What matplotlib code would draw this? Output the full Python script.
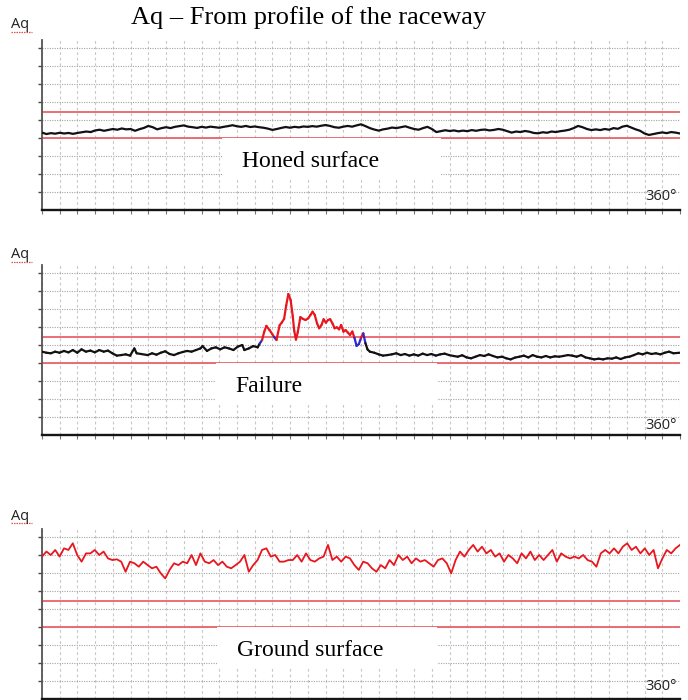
"""
Aq profile of the raceway: honed surface, failure and ground surface.
Three stacked strip charts, 0-360 deg around the ring.
"""

import numpy as np
import matplotlib.pyplot as plt
from matplotlib.collections import LineCollection
from matplotlib.lines import Line2D
from matplotlib.patches import Rectangle

# ---- data (grid units, one horizontal grid line = 1) ----
UPPER_LIMIT = 5.45
LOWER_LIMIT = 4.0

HONED_VALUES = [
    4.30, 4.22, 4.27, 4.24, 4.29, 4.25, 4.28, 4.23, 4.28, 4.32,
    4.36, 4.33, 4.42, 4.46, 4.40, 4.45, 4.50, 4.46, 4.53, 4.48,
    4.50, 4.40, 4.49, 4.56, 4.67, 4.60, 4.48, 4.55, 4.60, 4.55,
    4.62, 4.66, 4.70, 4.63, 4.60, 4.56, 4.62, 4.58, 4.63, 4.60,
    4.57, 4.62, 4.66, 4.71, 4.65, 4.62, 4.67, 4.61, 4.64, 4.60,
    4.57, 4.52, 4.45, 4.50, 4.56, 4.61, 4.57, 4.62, 4.59, 4.64,
    4.62, 4.66, 4.63, 4.68, 4.72, 4.67, 4.60, 4.57, 4.63, 4.67,
    4.63, 4.70, 4.76, 4.66, 4.55, 4.47, 4.41, 4.48, 4.52, 4.58,
    4.55, 4.60, 4.65, 4.57, 4.50, 4.46, 4.55, 4.62, 4.50, 4.33,
    4.38, 4.43, 4.39, 4.42, 4.37, 4.41, 4.38, 4.44, 4.40, 4.45,
    4.47, 4.42, 4.45, 4.50, 4.46, 4.38, 4.30, 4.36, 4.33, 4.39,
    4.35, 4.28, 4.26, 4.32, 4.29, 4.36, 4.33, 4.38, 4.41, 4.46,
    4.55, 4.67, 4.60, 4.50, 4.44, 4.48, 4.44, 4.50, 4.46, 4.55,
    4.51, 4.63, 4.68, 4.58, 4.48, 4.40, 4.25, 4.17, 4.22, 4.27,
    4.31, 4.27, 4.33, 4.30, 4.25,
]

FAILURE_ANGLES = [
    0, 2.5, 5.0, 7.4, 9.9, 12.4, 14.9, 17.4, 19.9, 22.3,
    24.8, 27.3, 29.8, 32.3, 34.8, 37.2, 39.7, 42.2, 44.7, 47.2,
    49.7, 52.1, 53.4, 55.9, 59.6, 62.1, 64.6, 67.0, 69.5, 72.0,
    74.5, 77.0, 79.4, 81.9, 84.4, 86.9, 89.4, 90.6, 93.1, 95.6,
    98.1, 100.6, 103.0, 105.5, 108.0, 110.5, 113.0, 114.2, 116.7, 119.2,
    121.7, 122.9, 124.2, 125.4, 126.6, 128.4, 129.9, 130.9, 132.3, 134.1,
    135.3, 136.6, 137.8, 139.0, 140.3, 141.5, 142.3, 143.3, 144.3, 145.8,
    147.2, 148.7, 150.2, 151.5, 152.7, 153.9, 155.2, 156.4, 157.7, 158.9,
    160.2, 161.4, 162.6, 163.9, 165.1, 166.4, 167.6, 168.8, 170.1, 171.3,
    172.6, 173.8, 175.1, 176.3, 177.5, 178.8, 180.0, 181.3, 182.5, 183.7,
    185.0, 187.5, 190.0, 192.4, 194.9, 197.4, 199.9, 202.4, 204.8, 207.3,
    209.8, 212.3, 214.8, 217.3, 219.7, 222.2, 224.7, 227.2, 229.7, 232.2,
    234.6, 237.1, 239.6, 242.1, 244.6, 247.1, 249.5, 252.0, 254.5, 257.0,
    259.5, 262.0, 264.4, 266.9, 269.4, 271.9, 274.4, 276.9, 279.3, 281.8,
    284.3, 286.8, 289.3, 291.8, 294.2, 296.7, 299.2, 301.7, 304.2, 306.7,
    309.1, 311.6, 314.1, 316.6, 319.1, 321.6, 324.0, 326.5, 329.0, 331.5,
    334.0, 336.5, 338.9, 341.4, 343.9, 346.4, 348.9, 351.4, 353.8, 356.3,
    360.0,
]

FAILURE_VALUES = [
    4.63, 4.57, 4.54, 4.63, 4.57, 4.67, 4.59, 4.72, 4.57, 4.76,
    4.63, 4.69, 4.59, 4.72, 4.63, 4.69, 4.54, 4.41, 4.44, 4.48,
    4.41, 4.81, 4.54, 4.50, 4.44, 4.54, 4.46, 4.57, 4.65, 4.50,
    4.44, 4.54, 4.61, 4.67, 4.63, 4.72, 4.81, 4.94, 4.67, 4.81,
    4.87, 4.76, 4.87, 4.81, 4.72, 4.91, 5.00, 4.72, 4.81, 4.94,
    4.87, 5.09, 5.28, 5.74, 6.06, 5.83, 5.61, 5.45, 5.28, 6.10,
    6.25, 6.45, 7.20, 7.83, 7.50, 6.60, 5.80, 5.30, 5.70, 6.55,
    6.45, 6.39, 6.48, 6.67, 6.85, 6.67, 6.20, 5.93, 6.11, 6.43,
    6.24, 6.39, 6.43, 6.20, 5.93, 5.98, 5.87, 6.11, 5.74, 5.83,
    5.69, 5.56, 5.75, 5.40, 4.95, 5.05, 5.40, 5.65, 5.10, 4.75,
    4.63, 4.57, 4.48, 4.41, 4.44, 4.48, 4.54, 4.44, 4.50, 4.41,
    4.48, 4.41, 4.52, 4.44, 4.50, 4.41, 4.48, 4.52, 4.44, 4.39,
    4.35, 4.43, 4.31, 4.26, 4.35, 4.44, 4.39, 4.48, 4.39, 4.31,
    4.35, 4.26, 4.20, 4.30, 4.35, 4.41, 4.31, 4.44, 4.35, 4.31,
    4.39, 4.31, 4.37, 4.35, 4.39, 4.44, 4.41, 4.35, 4.44, 4.31,
    4.26, 4.20, 4.24, 4.20, 4.26, 4.24, 4.31, 4.22, 4.31, 4.35,
    4.44, 4.54, 4.48, 4.57, 4.50, 4.54, 4.48, 4.57, 4.63, 4.54,
    4.57,
]

GROUND_VALUES = [
    7.91, 8.19, 8.00, 8.28, 7.91, 8.37, 8.28, 8.65, 8.00, 7.63,
    8.09, 8.09, 8.28, 8.00, 8.19, 7.81, 7.72, 7.76, 7.63, 7.07,
    7.63, 7.54, 7.35, 7.63, 7.44, 7.26, 7.35, 6.98, 6.70, 7.17,
    7.54, 7.44, 7.63, 7.54, 8.00, 7.44, 8.09, 7.63, 7.54, 7.72,
    7.44, 7.63, 7.35, 7.26, 7.44, 7.63, 8.00, 7.07, 7.44, 7.72,
    8.28, 8.37, 7.91, 8.00, 7.63, 7.63, 7.72, 7.72, 8.00, 7.63,
    8.09, 7.72, 7.63, 7.81, 7.91, 8.56, 7.72, 7.91, 7.63, 7.91,
    7.81, 7.44, 7.17, 7.63, 7.54, 7.26, 7.07, 7.44, 7.26, 7.72,
    7.44, 8.00, 7.72, 7.91, 7.54, 7.81, 7.63, 7.72, 7.54, 7.35,
    7.72, 7.81, 7.54, 6.98, 7.72, 8.19, 7.91, 8.28, 8.56, 8.19,
    8.46, 8.09, 8.28, 7.91, 8.09, 7.63, 8.00, 7.81, 7.54, 8.09,
    7.81, 8.19, 7.72, 8.00, 7.72, 8.00, 8.28, 7.63, 8.09, 7.91,
    7.81, 7.91, 7.81, 8.00, 7.72, 7.63, 7.35, 8.09, 8.28, 8.09,
    8.37, 8.09, 8.46, 8.65, 8.28, 8.46, 8.09, 8.37, 8.00, 8.28,
    7.26, 7.81, 8.28, 8.09, 8.37, 8.56,
]

PANEL_NAMES = ["Honed surface", "Failure", "Ground surface"]
# label box extent (deg) and label centre per panel
BOX_SPANS = [(101.6, 225.2), (98.2, 222.9), (99.0, 222.7)]
BOX_BOTTOMS = [1.67, 1.67, 1.78]
NAME_X = [151.8, 128.1, 151.5]
NAME_Y = [2.67, 2.72, 2.72]
END_LABEL_Y = [0.74, 0.55, 0.67]

# ---- style ----
LIMIT_COLOUR = "#e8646b"
TRACE_RED = "#e8161e"
TRACE_BLUE = "#2a2ad0"
TRACE_BLACK = "#111111"
YMAX = 9.45

fig = plt.figure(figsize=(6.88, 7.00), dpi=100)
W, H = 688.0, 700.0
AX_LEFT, AX_RIGHT = 42, 680
AX_BOTTOMS = [210, 435, 699]
AX_H = YMAX * 18


def style_axes(ax):
    ax.set_xlim(0, 360)
    ax.set_ylim(0, YMAX)
    ax.set_xticks(np.arange(0, 361, 10))
    ax.set_yticks(np.arange(1, 10))
    ax.tick_params(axis="x", length=3, width=0.8, color="#777777",
                   labelbottom=False, direction="out")
    ax.tick_params(axis="y", length=3, width=1.0, color="#444444",
                   labelleft=False, direction="out")
    for side in ("top", "right"):
        ax.spines[side].set_visible(False)
    ax.spines["left"].set_color("#555555")
    ax.spines["left"].set_linewidth(1.3)
    ax.spines["bottom"].set_color("#151515")
    ax.spines["bottom"].set_linewidth(1.7)
    ax.xaxis.grid(True, color="#c8c8c8", lw=0.8, linestyle=(0, (2.5, 2.5)))
    ax.yaxis.grid(True, color="#a4a4a4", lw=0.8, linestyle=(0, (1, 1.2)))
    ax.set_axisbelow(True)


axes = []
for i, bottom_px in enumerate(AX_BOTTOMS):
    ax = fig.add_axes([AX_LEFT / W, (H - bottom_px) / H,
                       (AX_RIGHT - AX_LEFT) / W, AX_H / H])
    style_axes(ax)
    ax.axhline(UPPER_LIMIT, color=LIMIT_COLOUR, lw=1.3, zorder=2)
    ax.axhline(LOWER_LIMIT, color=LIMIT_COLOUR, lw=1.3, zorder=2)
    x0, x1 = BOX_SPANS[i]
    ax.add_patch(Rectangle((x0, BOX_BOTTOMS[i]), x1 - x0,
                           LOWER_LIMIT - BOX_BOTTOMS[i],
                           facecolor="white", edgecolor="none", zorder=3))
    ax.text(NAME_X[i], NAME_Y[i], PANEL_NAMES[i], ha="center", va="center",
            fontsize=17, family="Liberation Serif", zorder=6)
    ax.text(358, END_LABEL_Y[i], "360°", ha="right", va="center",
            fontsize=10.5, family="Open Sans", color="#222222", zorder=6)
    axes.append(ax)

# panel 1: honed surface
honed_x = np.linspace(0, 360, len(HONED_VALUES))
axes[0].plot(honed_x, HONED_VALUES, color=TRACE_BLACK, lw=1.6, zorder=4)

# panel 2: failure, coloured by limit
fx = np.asarray(FAILURE_ANGLES, dtype=float)
fv = np.asarray(FAILURE_VALUES, dtype=float)
pts = np.column_stack([fx, fv])
segs = np.stack([pts[:-1], pts[1:]], axis=1)
above = np.where(fv > UPPER_LIMIT)[0]
first, last = above[0], above[-1]
colours = []
for k in range(len(segs)):
    mid = 0.5 * (fv[k] + fv[k + 1])
    if mid > UPPER_LIMIT:
        colours.append(TRACE_RED)
    elif first - 2 <= k <= last:
        colours.append(TRACE_BLUE)
    else:
        colours.append(TRACE_BLACK)
axes[1].add_collection(LineCollection(segs, colors=colours, linewidths=1.6,
                                      zorder=4, capstyle="round"))

# panel 3: ground surface
ground_x = np.linspace(0, 360, len(GROUND_VALUES))
axes[2].plot(ground_x, GROUND_VALUES, color=TRACE_RED, lw=1.3, zorder=4)

# titles and "Aq" labels
fig.text(308.5 / W, 1 - 18 / H, "Aq \u2013 From profile of the raceway",
         ha="center", va="center", fontsize=19, family="Liberation Serif")
for y_px in (25, 255, 516):
    fig.text(11 / W, 1 - y_px / H, "Aq", ha="left", va="center",
             fontsize=10.5, family="Open Sans", color="#222222")
    fig.add_artist(Line2D([11 / W, 32 / W], [1 - (y_px + 7) / H] * 2,
                          transform=fig.transFigure, color="#e05050",
                          lw=0.9, linestyle=(0, (1.2, 0.8))))

fig.savefig("out.png", dpi=100, facecolor="white")
